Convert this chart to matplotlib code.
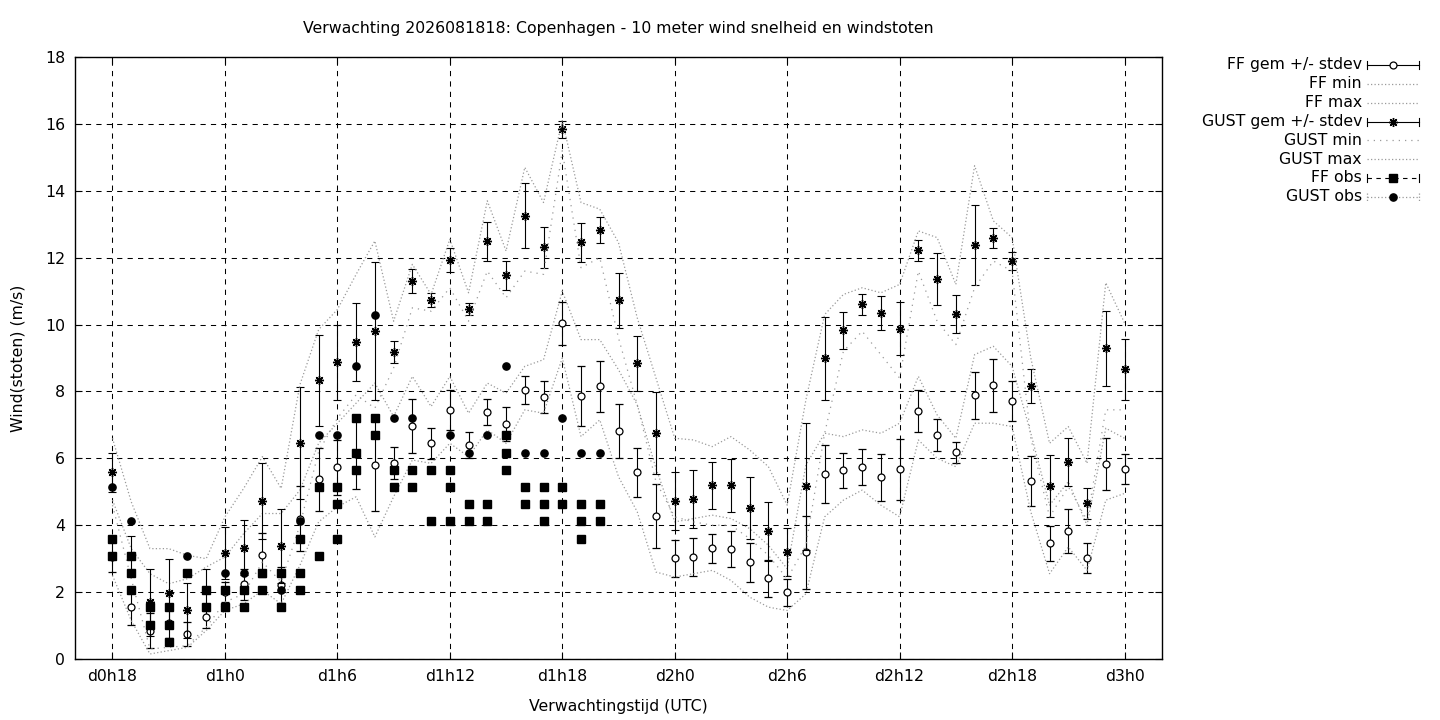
import matplotlib
matplotlib.use("Agg")
import matplotlib.pyplot as plt
from matplotlib.lines import Line2D

# ---------------- data ----------------
hours = list(range(18, 73))

ff_mean = [3.06, 1.55, 0.85, 1.09, 0.75, 1.26, 2.01, 2.23, 3.11, 2.21,
           4.20, 5.37, 5.73, 6.13, 5.79, 5.86, 6.97, 6.45, 7.44, 6.40,
           7.38, 7.02, 8.03, 7.83, 10.04, 7.86, 8.15, 6.82, 5.58, 4.27,
           3.01, 3.04, 3.31, 3.28, 2.89, 2.41, 1.99, 3.19, 5.53, 5.64,
           5.74, 5.43, 5.67, 7.41, 6.69, 6.18, 7.89, 8.18, 7.71, 5.32,
           3.46, 3.83, 3.02, 5.83, 5.68]
ff_std = [0.46, 0.54, 0.53, 0.45, 0.35, 0.34, 0.30, 0.47, 0.65, 0.54,
          0.97, 0.93, 0.82, 1.05, 1.37, 0.47, 0.81, 0.47, 0.59, 0.40,
          0.38, 0.50, 0.42, 0.47, 0.64, 0.89, 0.75, 0.81, 0.73, 0.95,
          0.55, 0.57, 0.43, 0.54, 0.58, 0.55, 0.40, 1.10, 0.86, 0.53,
          0.53, 0.71, 0.92, 0.62, 0.48, 0.31, 0.70, 0.80, 0.59, 0.74,
          0.52, 0.66, 0.46, 0.77, 0.45]
ff_min = [2.50, 1.15, 0.15, 0.25, 0.35, 0.85, 1.45, 1.65, 2.05, 1.65,
          2.80, 4.10, 4.55, 4.85, 3.65, 4.85, 5.95, 5.85, 6.45, 6.05,
          6.85, 6.45, 7.45, 7.35, 9.00, 6.65, 7.15, 5.45, 4.40, 2.60,
          2.45, 2.55, 2.65, 2.35, 1.85, 1.55, 1.45, 1.95, 4.25, 4.75,
          5.05, 4.60, 4.25, 6.55, 6.00, 5.75, 7.05, 7.05, 6.95, 4.40,
          2.55, 3.35, 2.65, 4.75, 4.95]
ff_max = [4.75, 3.30, 2.55, 2.25, 2.40, 2.75, 3.05, 3.75, 4.35, 4.35,
          5.05, 6.45, 7.05, 7.65, 8.25, 7.25, 8.45, 7.55, 8.45, 7.35,
          8.25, 7.95, 8.75, 8.95, 11.00, 9.55, 9.55, 8.65, 7.60, 5.70,
          4.10, 4.20, 4.30, 4.20, 3.90, 3.40, 2.70, 5.80, 6.75, 6.65,
          6.85, 6.75, 7.05, 8.45, 7.30, 6.60, 9.10, 9.35, 8.75, 6.75,
          4.60, 5.30, 4.00, 6.90, 6.60]

gust_mean = [5.58, 3.09, 1.69, 1.96, 1.46, 2.06, 3.16, 3.33, 4.73, 3.39,
             6.46, 8.34, 8.87, 9.47, 9.80, 9.17, 11.29, 10.72, 11.92, 10.46,
             12.49, 11.47, 13.26, 12.31, 15.84, 12.46, 12.82, 10.72, 8.84, 6.75,
             4.72, 4.78, 5.19, 5.19, 4.51, 3.82, 3.19, 5.16, 8.99, 9.83,
             10.60, 10.34, 9.88, 12.22, 11.35, 10.31, 12.37, 12.59, 11.90, 8.16,
             5.17, 5.89, 4.66, 9.29, 8.66]
gust_std = [0.59, 0.60, 0.99, 1.02, 0.82, 0.62, 0.78, 0.82, 1.13, 1.11,
            1.68, 1.36, 1.13, 1.17, 2.07, 0.33, 0.36, 0.21, 0.36, 0.18,
            0.59, 0.43, 0.97, 0.62, 0.25, 0.59, 0.39, 0.83, 0.82, 1.22,
            0.86, 0.86, 0.70, 0.80, 0.93, 0.88, 0.72, 1.91, 1.24, 0.55,
            0.30, 0.51, 0.79, 0.31, 0.78, 0.56, 1.20, 0.31, 0.28, 0.50,
            0.93, 0.71, 0.46, 1.13, 0.92]
gust_min = [4.60, 2.40, 0.30, 0.35, 0.40, 0.95, 1.70, 1.95, 2.90, 2.30,
            4.00, 6.20, 7.20, 7.90, 7.50, 8.70, 10.50, 10.40, 11.10, 10.10,
            11.60, 10.80, 11.60, 11.50, 15.20, 11.70, 12.00, 9.60, 7.60, 5.30,
            4.25, 4.10, 4.00, 4.00, 3.60, 3.10, 2.40, 3.40, 6.75, 9.20,
            9.80, 9.10, 8.40, 11.60, 10.10, 9.40, 11.10, 11.90, 11.60, 6.60,
            4.25, 5.15, 4.15, 7.45, 7.45]
gust_max = [6.60, 4.70, 3.30, 3.30, 3.10, 3.00, 4.25, 5.10, 6.05, 5.10,
            8.20, 9.85, 10.45, 11.50, 12.50, 10.10, 11.80, 10.90, 12.55, 10.95,
            13.70, 12.20, 14.70, 13.65, 16.10, 13.65, 13.45, 12.45, 10.20, 8.40,
            6.60, 6.55, 6.35, 6.65, 6.25, 5.75, 4.60, 7.75, 10.30, 10.90,
            11.10, 10.95, 11.20, 12.80, 12.60, 11.20, 14.75, 13.10, 12.60, 9.00,
            6.45, 6.95, 5.85, 11.25, 10.05]

ff_obs_hour = [18, 18, 19, 19, 19, 20, 20, 21, 21, 21, 22, 23, 23, 24, 24,
               25, 25, 26, 26, 27, 27, 28, 28, 28, 29, 29, 30, 30, 30,
               31, 31, 31, 32, 32, 33, 33, 34, 34, 35, 35, 36, 36, 36,
               37, 37, 38, 38, 39, 39, 39, 40, 40, 41, 41, 41, 42, 42,
               43, 43, 43, 44, 44]
ff_obs = [3.60, 3.09, 3.09, 2.57, 2.06, 1.54, 1.03, 1.54, 1.03, 0.51, 2.57,
          2.06, 1.54, 2.06, 1.54, 2.06, 1.54, 2.57, 2.06, 2.57, 1.54,
          3.60, 2.57, 2.06, 5.14, 3.09, 5.14, 4.63, 3.60,
          7.20, 6.17, 5.66, 7.20, 6.69, 5.66, 5.14, 5.66, 5.14, 5.66, 4.12,
          5.66, 5.14, 4.12, 4.63, 4.12, 4.63, 4.12, 6.69, 6.17, 5.66,
          5.14, 4.63, 5.14, 4.63, 4.12, 5.14, 4.63, 4.63, 4.12, 3.60,
          4.63, 4.12]

gust_obs_hour = list(range(18, 45))
gust_obs = [5.14, 4.12, 1.54, 1.03, 3.09, 2.06, 2.57, 2.57, 2.57, 2.06,
            4.12, 6.69, 6.69, 8.75, 10.29, 7.20, 7.20, 5.66, 6.69, 6.17,
            6.69, 8.75, 6.17, 6.17, 7.20, 6.17, 6.17]

tick_hours = [18, 24, 30, 36, 42, 48, 54, 60, 66, 72]
tick_labels = ["d0h18", "d1h0", "d1h6", "d1h12", "d1h18",
               "d2h0", "d2h6", "d2h12", "d2h18", "d3h0"]

legend_labels = ["FF gem +/- stdev", "FF min", "FF max", "GUST gem +/- stdev",
                 "GUST min", "GUST max", "FF obs", "GUST obs"]

title = "Verwachting 2026081818: Copenhagen - 10 meter wind snelheid en windstoten"

# ---------------- style ----------------
FS = 11.3
plt.rcParams['font.family'] = ['DejaVu Sans']
plt.rcParams['font.size'] = FS
W, H = 1440, 720
DOT = '#9a9a9a'
LW = 0.8
fig = plt.figure(figsize=(W / 100, H / 100), dpi=100)
ax = fig.add_axes([75 / W, 61 / H, 1087 / W, 602 / H])

ax.set_xlim(16, 74)
ax.set_ylim(0, 18)
ax.set_xticks(tick_hours)
ax.set_xticklabels(tick_labels)
ax.set_yticks(range(0, 19, 2))
ax.tick_params(direction='in', top=True, right=True, length=5, width=0.8,
               labelsize=FS, pad=7, colors='black')
for s in ax.spines.values():
    s.set_linewidth(1.0)
    s.set_color('black')
ax.grid(True, color='black', linewidth=0.75, linestyle=(0, (5, 5)))
ax.set_axisbelow(True)

# FF mean +/- stdev
ax.errorbar(hours, ff_mean, yerr=ff_std, fmt='o', ms=5, mfc='white',
            mec='black', mew=0.9, ecolor='black', elinewidth=LW,
            capsize=3, capthick=LW, zorder=3)
ax.plot(hours, ff_min, color=DOT, lw=0.9, linestyle=(0, (1, 1.8)), zorder=3.1)
ax.plot(hours, ff_max, color=DOT, lw=0.9, linestyle=(0, (1, 1.8)), zorder=3.2)
# GUST mean +/- stdev
ax.errorbar(hours, gust_mean, yerr=gust_std, fmt='none', ecolor='black',
            elinewidth=LW, capsize=3, capthick=LW, zorder=3.3)
ax.plot(hours, gust_mean, linestyle='none', marker=(8, 2, 0), ms=6.5,
        mec='black', mew=1.0, color='black', zorder=3.35)
ax.plot(hours, gust_min, color=DOT, lw=0.9, linestyle=(0, (1, 4)), zorder=3.4)
ax.plot(hours, gust_max, color=DOT, lw=0.9, linestyle=(0, (1, 1.8)), zorder=3.5)
# observations
ax.plot(ff_obs_hour, ff_obs, linestyle='none', marker='s', ms=5.2,
        color='black', zorder=3.6)
ax.plot(gust_obs_hour, gust_obs, linestyle='none', marker='o', ms=5.2,
        color='black', zorder=3.7)

# ---------------- texts ----------------
fig.text(618.5 / W, 1 - 29 / H, title, ha='center', va='center', fontsize=FS)
fig.text(618.5 / W, 1 - 706 / H, "Verwachtingstijd (UTC)", ha='center',
         va='center', fontsize=FS)
fig.text(18 / W, 1 - 358 / H, "Wind(stoten) (m/s)", ha='center', va='center',
         rotation=90, fontsize=FS)

# ---------------- legend (gnuplot style, right aligned) ----------------
row_y = [65, 84, 102.7, 121.5, 140.2, 159, 177.7, 196.5]
x0, x1, xm = 1367, 1419, 1393


def fx(px):
    return px / W


def fy(py):
    return 1 - py / H


def seg(xa, xb, y, **kw):
    fig.add_artist(Line2D([fx(xa), fx(xb)], [fy(y), fy(y)],
                          transform=fig.transFigure, **kw))


def cap(x, y, **kw):
    fig.add_artist(Line2D([fx(x), fx(x)], [fy(y - 4), fy(y + 4)],
                          transform=fig.transFigure, **kw))


def mark(x, y, **kw):
    fig.add_artist(Line2D([fx(x)], [fy(y)], transform=fig.transFigure,
                          linestyle='none', **kw))


for lab, y in zip(legend_labels, row_y):
    fig.text(fx(1362), fy(y), lab, ha='right', va='center', fontsize=FS)

# FF gem
y = row_y[0]
seg(x0, x1, y, color='black', lw=LW)
cap(x0, y, color='black', lw=LW)
cap(x1, y, color='black', lw=LW)
mark(xm, y, marker='o', ms=5, mfc='white', mec='black', mew=0.9)
# FF min / FF max
seg(x0, x1, row_y[1], color=DOT, lw=0.9, linestyle=(0, (1, 1.8)))
seg(x0, x1, row_y[2], color=DOT, lw=0.9, linestyle=(0, (1, 1.8)))
# GUST gem
y = row_y[3]
seg(x0, x1, y, color='black', lw=LW)
cap(x0, y, color='black', lw=LW)
cap(x1, y, color='black', lw=LW)
mark(xm, y, marker=(8, 2, 0), ms=6.5, mec='black', mew=1.0, color='black')
# GUST min / GUST max
seg(x0, x1, row_y[4], color=DOT, lw=0.9, linestyle=(0, (1, 4)))
seg(x0, x1, row_y[5], color=DOT, lw=0.9, linestyle=(0, (1, 1.8)))
# FF obs
y = row_y[6]
seg(x0, x1, y, color='black', lw=LW, linestyle=(0, (4, 4)))
cap(x0, y, color='black', lw=LW)
cap(x1, y, color='black', lw=LW)
mark(xm, y, marker='s', ms=5.2, color='black')
# GUST obs
y = row_y[7]
seg(x0, x1, y, color=DOT, lw=0.9, linestyle=(0, (1, 1.8)))
cap(x0, y, color=DOT, lw=0.9, linestyle=(0, (1, 1.5)))
cap(x1, y, color=DOT, lw=0.9, linestyle=(0, (1, 1.5)))
mark(xm, y, marker='o', ms=5.2, color='black')

fig.savefig("out.png", dpi=100)
